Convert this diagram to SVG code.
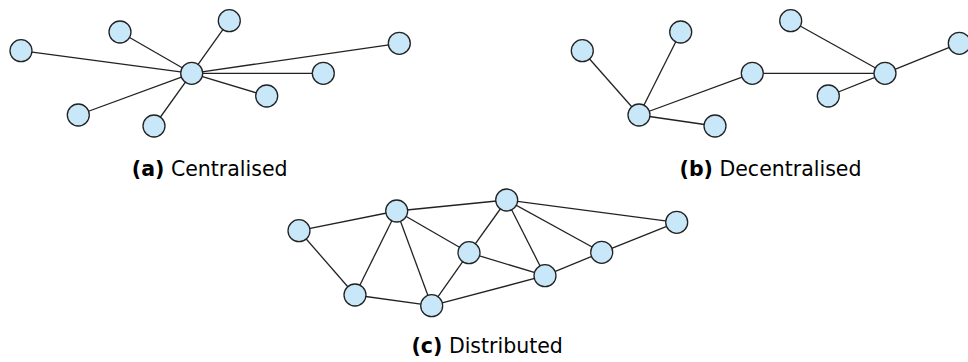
<svg xmlns="http://www.w3.org/2000/svg" width="968" height="362" viewBox="0 0 968 362">
<style>
.n{fill:#c8e7f8;stroke:#222;stroke-width:1.3}
.e{stroke:#222;stroke-width:1.3;fill:none}
.lbl{font-family:"DejaVu Sans","Liberation Sans",sans-serif;font-size:20.5px;fill:#000;text-anchor:middle}
.b{font-weight:bold}
</style>
<rect width="968" height="362" fill="#fff"/>
<g id="connectors">
<g class="e">
<line x1="191.7" y1="73.3" x2="229.3" y2="20.7"/>
<line x1="191.7" y1="73.3" x2="120" y2="32"/>
<line x1="191.7" y1="73.3" x2="21" y2="50.7"/>
<line x1="191.7" y1="73.3" x2="399.3" y2="43.3"/>
<line x1="191.7" y1="73.3" x2="323.3" y2="73.3"/>
<line x1="191.7" y1="73.3" x2="266.7" y2="96"/>
<line x1="191.7" y1="73.3" x2="78.3" y2="115"/>
<line x1="191.7" y1="73.3" x2="154" y2="126"/>
<line x1="639" y1="115" x2="582.3" y2="50.7"/>
<line x1="639" y1="115" x2="680.7" y2="32"/>
<line x1="639" y1="115" x2="715" y2="126"/>
<line x1="639" y1="115" x2="752.3" y2="73.3"/>
<line x1="752.3" y1="73.3" x2="885" y2="73.3"/>
<line x1="885" y1="73.3" x2="790.7" y2="20.7"/>
<line x1="885" y1="73.3" x2="828.3" y2="96"/>
<line x1="885" y1="73.3" x2="959.3" y2="43.3"/>
<line x1="299" y1="230.7" x2="396.7" y2="211"/>
<line x1="299" y1="230.7" x2="355" y2="295"/>
<line x1="396.7" y1="211" x2="355" y2="295"/>
<line x1="396.7" y1="211" x2="431.7" y2="305.7"/>
<line x1="396.7" y1="211" x2="469" y2="252.7"/>
<line x1="396.7" y1="211" x2="506.7" y2="200"/>
<line x1="506.7" y1="200" x2="469" y2="252.7"/>
<line x1="506.7" y1="200" x2="545" y2="275.7"/>
<line x1="506.7" y1="200" x2="601.7" y2="252.3"/>
<line x1="506.7" y1="200" x2="676.7" y2="222.3"/>
<line x1="676.7" y1="222.3" x2="601.7" y2="252.3"/>
<line x1="601.7" y1="252.3" x2="545" y2="275.7"/>
<line x1="469" y1="252.7" x2="545" y2="275.7"/>
<line x1="469" y1="252.7" x2="431.7" y2="305.7"/>
<line x1="431.7" y1="305.7" x2="545" y2="275.7"/>
<line x1="355" y1="295" x2="431.7" y2="305.7"/>
</g>
</g>
<g id="a-hub"><circle class="n" cx="191.7" cy="73.3" r="11"/></g>
<g id="a-n1"><circle class="n" cx="229.3" cy="20.7" r="11"/></g>
<g id="a-n2"><circle class="n" cx="120" cy="32" r="11"/></g>
<g id="a-n3"><circle class="n" cx="21" cy="50.7" r="11"/></g>
<g id="a-n4"><circle class="n" cx="399.3" cy="43.3" r="11"/></g>
<g id="a-n5"><circle class="n" cx="323.3" cy="73.3" r="11"/></g>
<g id="a-n6"><circle class="n" cx="266.7" cy="96" r="11"/></g>
<g id="a-n7"><circle class="n" cx="78.3" cy="115" r="11"/></g>
<g id="a-n8"><circle class="n" cx="154" cy="126" r="11"/></g>

<g id="b-n1"><circle class="n" cx="582.3" cy="50.7" r="11"/></g>
<g id="b-n2"><circle class="n" cx="680.7" cy="32" r="11"/></g>
<g id="b-hub1"><circle class="n" cx="639" cy="115" r="11"/></g>
<g id="b-n3"><circle class="n" cx="715" cy="126" r="11"/></g>
<g id="b-n4"><circle class="n" cx="752.3" cy="73.3" r="11"/></g>
<g id="b-n5"><circle class="n" cx="790.7" cy="20.7" r="11"/></g>
<g id="b-hub2"><circle class="n" cx="885" cy="73.3" r="11"/></g>
<g id="b-n6"><circle class="n" cx="828.3" cy="96" r="11"/></g>
<g id="b-n7"><circle class="n" cx="959.3" cy="43.3" r="11"/></g>

<g id="c-n1"><circle class="n" cx="299" cy="230.7" r="11"/></g>
<g id="c-n2"><circle class="n" cx="396.7" cy="211" r="11"/></g>
<g id="c-n3"><circle class="n" cx="506.7" cy="200" r="11"/></g>
<g id="c-n4"><circle class="n" cx="676.7" cy="222.3" r="11"/></g>
<g id="c-n5"><circle class="n" cx="469" cy="252.7" r="11"/></g>
<g id="c-n6"><circle class="n" cx="601.7" cy="252.3" r="11"/></g>
<g id="c-n7"><circle class="n" cx="545" cy="275.7" r="11"/></g>
<g id="c-n8"><circle class="n" cx="355" cy="295" r="11"/></g>
<g id="c-n9"><circle class="n" cx="431.7" cy="305.7" r="11"/></g>

<text class="lbl" x="209.7" y="176"><tspan class="b">(a)</tspan> Centralised</text>
<text class="lbl" x="770.5" y="176"><tspan class="b">(b)</tspan> Decentralised</text>
<text class="lbl" x="487.2" y="353"><tspan class="b">(c)</tspan> Distributed</text>
</svg>
